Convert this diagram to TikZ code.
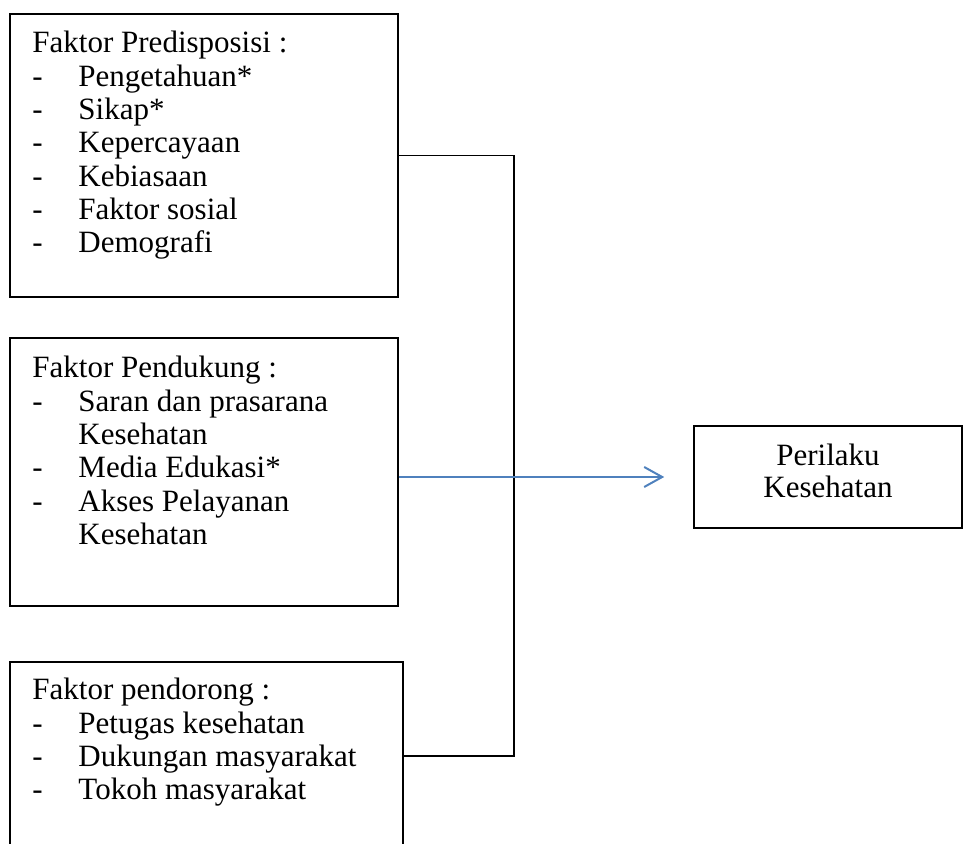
\documentclass[tikz,border=0pt]{standalone}
\usepackage{fontspec}
\setmainfont{Liberation Serif}
\usetikzlibrary{positioning}
\usetikzlibrary{fit}
\usetikzlibrary{arrows.meta}
\definecolor{biru}{HTML}{4F81BD}
\newcommand{\butir}[1]{\makebox[18.4pt][l]{-}#1}
\newcommand{\lanjut}[1]{\hspace*{18.4pt}#1}

\begin{document}
\begin{tikzpicture}
[
x=0.4pt, y=-0.4pt,
kotak/.style={rectangle,draw,line width=0.6pt,inner sep=0pt},
teks/.style={anchor=base west,inner sep=0pt,font=\fontsize{12.4}{13.33}\selectfont},
garis/.style={line width=0.6pt},
panah/.style={draw=biru,line width=0.8pt,-{Straight Barb[length=7.2pt,width=8pt]}},
]
\useasboundingbox (0,0) rectangle (963,844);
% kotak faktor
\node (faktor1) [kotak, fit={(10,14) (398,297)}]  {};
\node (faktor2) [kotak, fit={(10,338) (398,606)}] {};
\node (faktor3) [kotak, fit={(10,662) (403,850)}] {};
\node (perilaku) [kotak, fit={(694,426) (962,528)}] {};
% isi kotak
\node (isi1) [teks] at (32,53) {\parbox[t]{150pt}{\raggedright
  Faktor Predisposisi :\\
  \butir{Pengetahuan*}\\
  \butir{Sikap*}\\
  \butir{Kepercayaan}\\
  \butir{Kebiasaan}\\
  \butir{Faktor sosial}\\
  \butir{Demografi}}};
\node (isi2) [teks] at (32,378) {\parbox[t]{150pt}{\raggedright
  Faktor Pendukung :\\
  \butir{Saran dan prasarana}\\
  \lanjut{Kesehatan}\\
  \butir{Media Edukasi*}\\
  \butir{Akses Pelayanan}\\
  \lanjut{Kesehatan}}};
\node (isi3) [teks] at (32,700) {\parbox[t]{150pt}{\raggedright
  Faktor pendorong :\\
  \butir{Petugas kesehatan}\\
  \butir{Dukungan masyarakat}\\
  \butir{Tokoh masyarakat}}};
\node (isi4) [teks, anchor=base] at (828,466) {\parbox[t]{100pt}{\centering
  \baselineskip=12.8pt
  Perilaku\\
  Kesehatan}};
% penghubung
\coordinate (sudut) at (514,500);
\draw [garis] (faktor1.east) -| (sudut) |- (faktor3.east);
\draw [panah, shorten >=11.6pt] (faktor2.east |- perilaku.west) -- (perilaku.west);
\end{tikzpicture}
\end{document}
